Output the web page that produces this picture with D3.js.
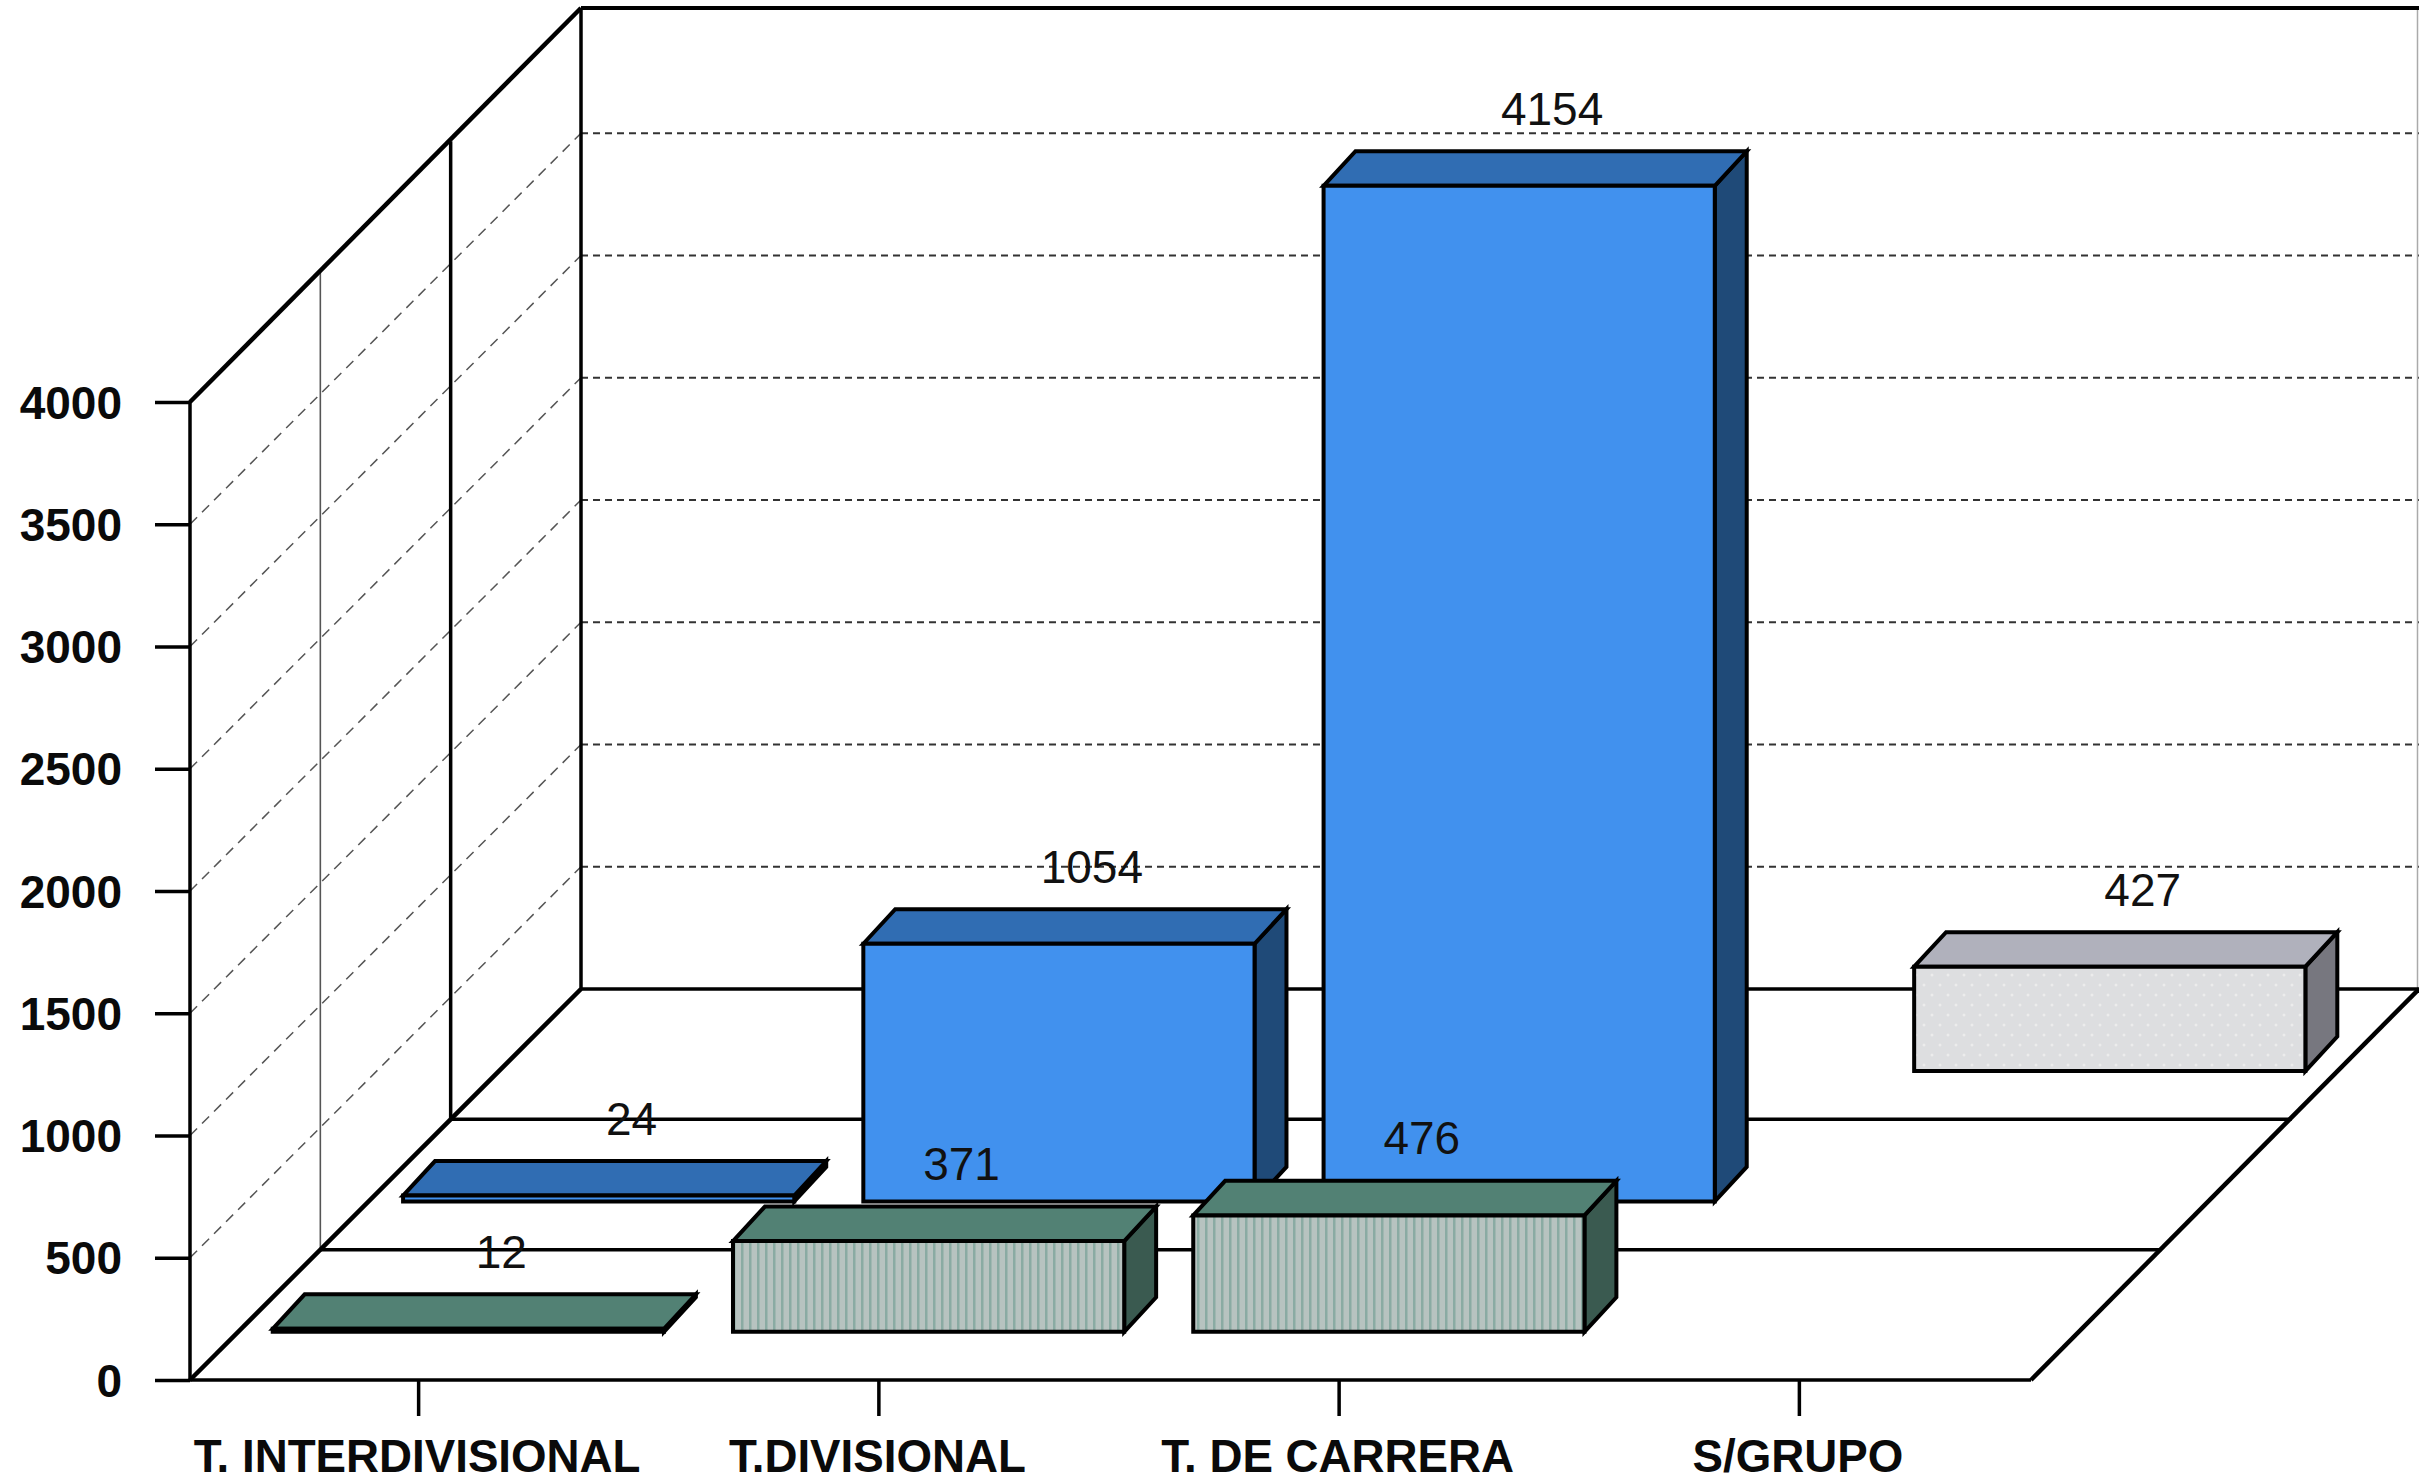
<!DOCTYPE html>
<html>
<head>
<meta charset="utf-8">
<script src="https://cdn.jsdelivr.net/npm/d3@7"></script>
<style>
html,body{margin:0;padding:0;background:#fff;overflow:hidden}
svg{display:block}
text{font-family:"Liberation Sans",Arial,sans-serif}
</style>
</head>
<body>
<div id="chart"></div>
<script>
const categories = ["T. INTERDIVISIONAL","T.DIVISIONAL","T. DE CARRERA","S/GRUPO"];
const valueTicks = [0,500,1000,1500,2000,2500,3000,3500,4000];
const frontRowValues = [12,371,476,null];
const middleRowValues = [24,1054,4154,null];
const backRowValues = [null,null,null,427];

const width = 2419, height = 1482;
const svg = d3.select("#chart").append("svg").attr("width",width).attr("height",height);

const x = d3.scaleBand().domain(categories).range([190,2031]);
const y = d3.scaleLinear().domain([0,4000]).range([1380,402]);
const depth = d3.scaleLinear().domain([0,3]).range([0,391]);

const rows = [
  {row:2, values:backRowValues, front:"url(#dots)", top:"#b0b1bc", side:"#77777f"},
  {row:1, values:middleRowValues, front:"#4191ee", top:"#306db3", side:"#1f4a78"},
  {row:0, values:frontRowValues, front:"url(#stripes)", top:"#528174", side:"#3a5a50"}
];

// fills
const defs = svg.append("defs");
const st = defs.append("pattern").attr("id","stripes").attr("patternUnits","userSpaceOnUse")
  .attr("width",8).attr("height",8);
st.append("rect").attr("width",8).attr("height",8).attr("fill","#b7c3c0");
st.append("rect").attr("x",5).attr("width",2.5).attr("height",8).attr("fill","#8aaba3");
const dt = defs.append("pattern").attr("id","dots").attr("patternUnits","userSpaceOnUse")
  .attr("width",16).attr("height",20);
dt.append("rect").attr("width",16).attr("height",20).attr("fill","#dddee0");
dt.append("circle").attr("cx",4).attr("cy",5).attr("r",1.5).attr("fill","#ececec");
dt.append("circle").attr("cx",12).attr("cy",15).attr("r",1.5).attr("fill","#ececec");

const line = (x1,y1,x2,y2,w,c,dash) => svg.append("line")
  .attr("x1",x1).attr("y1",y1).attr("x2",x2).attr("y2",y2)
  .attr("stroke",c||"#000").attr("stroke-width",w)
  .attr("stroke-dasharray",dash||null);

const x0 = x.range()[0], x1 = x.range()[1], D = depth.range()[1];
const y0 = y(0), yMax = y(4000);
const wallTop = yMax-D-3;

// horizontal and oblique wall grid lines
valueTicks.filter(v=>v>0 && v<4000).forEach(v=>{
  line(x0,y(v),x0+D,y(v)-D,1.5,"#555","10 7");
  line(x0+D,y(v)-D,width,y(v)-D,2,"#333","7 5");
});

// right edge hairline
line(width-1.5,wallTop,width-1.5,y0-D,1.5,"#aaa");

// wall verticals
line(x0+depth(1),y0-depth(1),x0+depth(1),yMax-depth(1),1.6,"#555");
line(x0+depth(2),y0-depth(2),x0+depth(2),yMax-depth(2),3.5,"#000");
line(x0+D,y0-D,x0+D,wallTop,3.5,"#000");
line(x0,y0,x0,yMax,3.5,"#000");
line(x0,yMax,x0+D,wallTop,4.5,"#000");
line(x0+D,wallTop,width,wallTop,4,"#000");

// floor
[0,1,2,3].forEach(r=>line(x0+depth(r),y0-depth(r),x1+depth(r),y0-depth(r),3.5,"#000"));
line(x0,y0,x0+D,y0-D,4.5,"#000");
line(x1,y0,Math.min(x1+D,width),y0-D,4.5,"#000");

// axes
const styleAxis = size => g => {
  g.select(".domain").remove();
  g.selectAll(".tick line").attr("stroke","#000").attr("stroke-width",3.5);
  g.selectAll("text").attr("fill","#0a0a0a").attr("font-weight","bold").attr("font-size",size)
    .attr("font-family",'"Liberation Sans",Arial,sans-serif');
};
svg.append("g").attr("transform",`translate(${x0},0)`)
  .call(d3.axisLeft(y).tickValues(valueTicks).tickFormat(d3.format("d")).tickSize(35).tickPadding(33))
  .call(styleAxis(46))
  .call(g=>g.selectAll("text").attr("transform","translate(0,1.5)"));
svg.append("g").attr("transform",`translate(0,${y0})`)
  .call(d3.axisBottom(x).tickSize(36).tickPadding(24))
  .call(styleAxis(45.7))
  .call(g=>g.selectAll(".tick line").attr("x1",-1.5).attr("x2",-1.5))
  .call(g=>g.selectAll("text").attr("dx",-3));

// bars
const inset = x.step()*0.075;
const barW = x.step()*0.85;
const startFrac = 0.37;
const ddx = depth(0.245), ddy = depth(0.265);
const poly = pts => "M"+pts.map(p=>p.join(",")).join("L")+"Z";
const labels = [];
rows.forEach(r=>{
  const d0 = depth(r.row+startFrac);
  r.values.forEach((v,i)=>{
    if(v===null) return;
    const L = x(categories[i])+inset+d0, R = L+barW;
    const B = y(0)-d0, T = y(v)-d0;
    const g = svg.append("g").attr("stroke","#000").attr("stroke-width",4).attr("stroke-linejoin","miter");
    g.append("path").attr("d",poly([[R,B],[R+ddx,B-ddy],[R+ddx,T-ddy],[R,T]])).attr("fill",r.side);
    g.append("path").attr("d",poly([[L,T],[L+ddx,T-ddy],[R+ddx,T-ddy],[R,T]])).attr("fill",r.top);
    g.append("path").attr("d",poly([[L,B],[R,B],[R,T],[L,T]])).attr("fill",r.front);
    labels.push({v,x:(L+R)/2+ddx+1,y:T-ddy-26.5});
  });
});

// value labels
svg.append("g").selectAll("text").data(labels).join("text")
  .attr("x",d=>d.x).attr("y",d=>d.y)
  .attr("text-anchor","middle").attr("font-size",46).attr("fill","#111")
  .text(d=>d.v);
</script>
</body>
</html>
